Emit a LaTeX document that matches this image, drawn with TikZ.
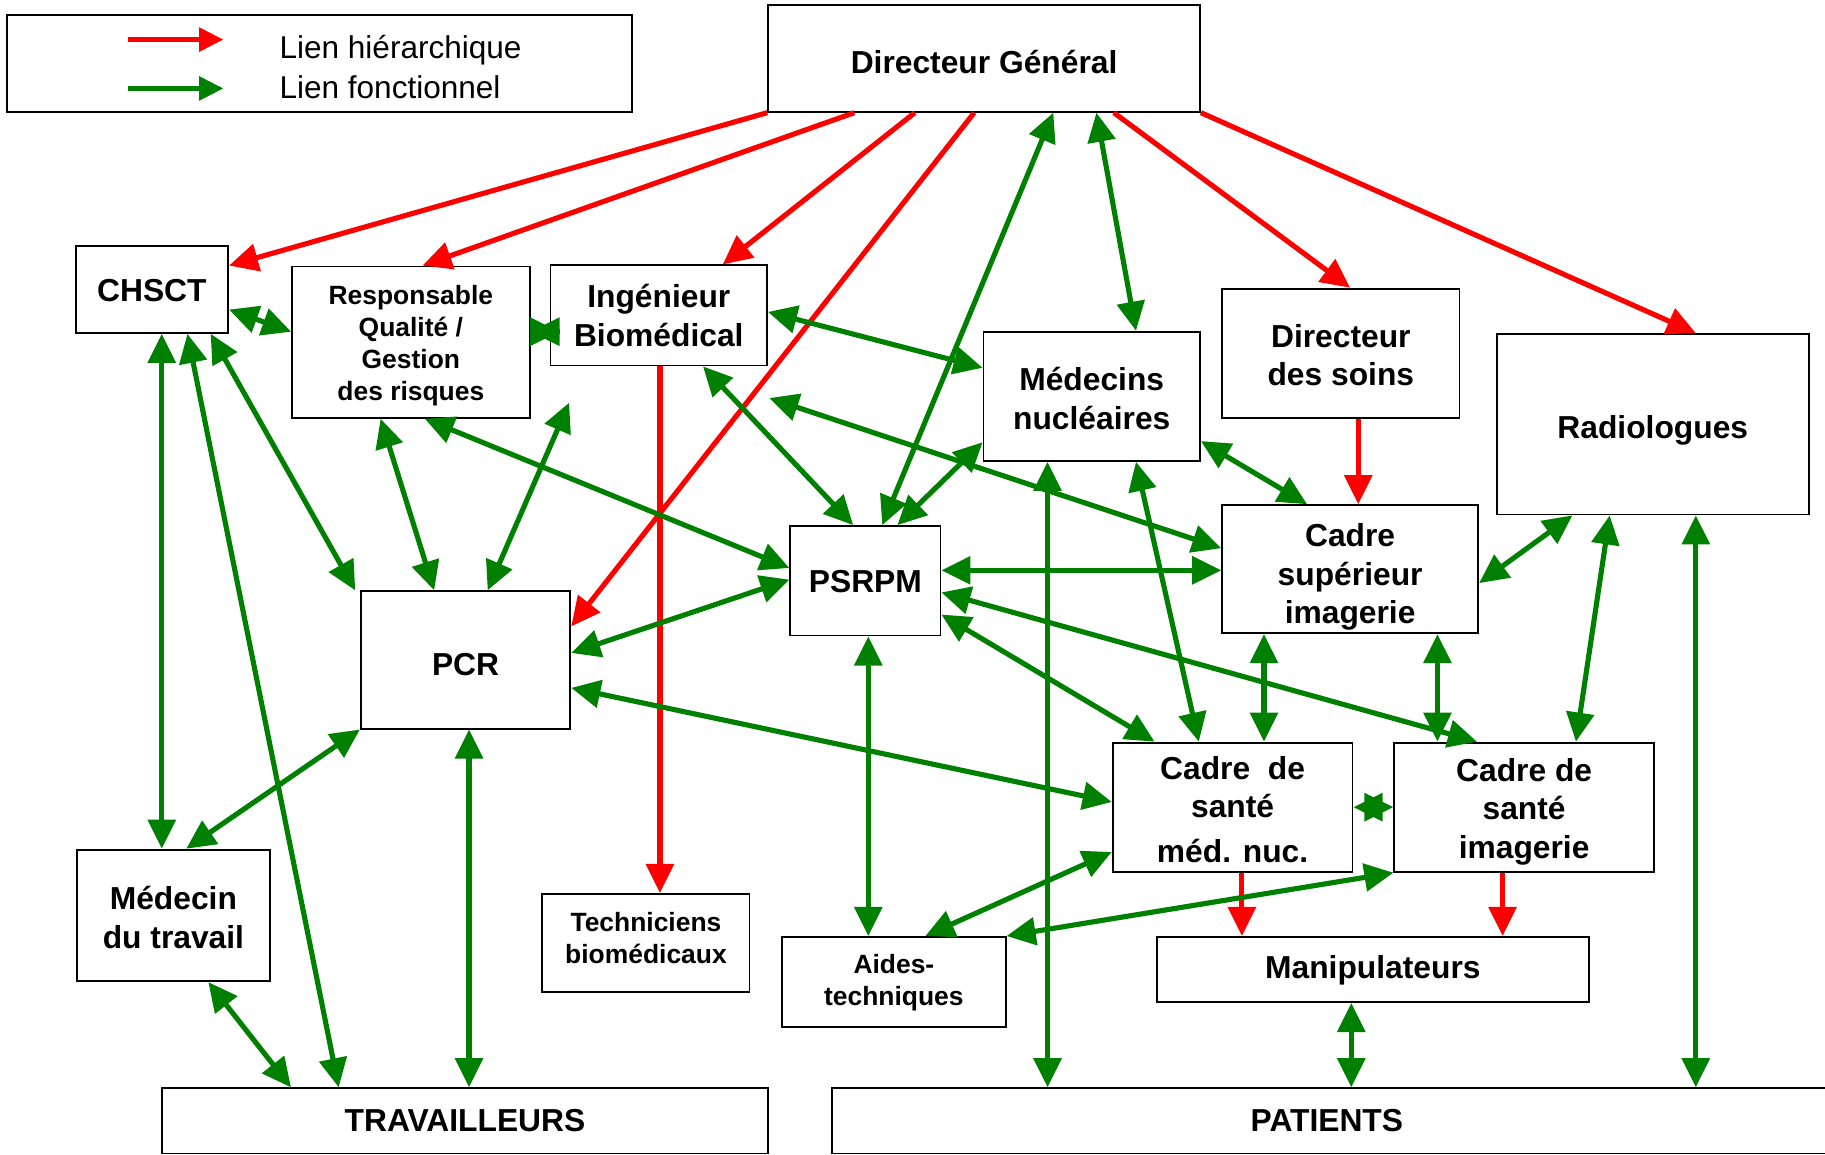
\documentclass[tikz,border=0pt]{standalone}
\usepackage{fontspec}
\setmainfont{Liberation Sans}
\usetikzlibrary{arrows.meta}
\definecolor{hred}{RGB}{255,0,0}
\definecolor{fgreen}{RGB}{0,128,0}
\newcommand\bigfont{\fontsize{27.3pt}{33pt}\selectfont\bfseries}
\newcommand\smallfont{\fontsize{22.7pt}{27.5pt}\selectfont\bfseries}
\newcommand\legfont{\fontsize{27.1pt}{33pt}\selectfont}
\newcommand\sh[2]{\raisebox{#1}[\height][\depth]{#2}}
\newcommand\ml[2]{\raisebox{#1}[\height][\depth]{\begin{tabular}{@{}c@{}}#2\end{tabular}}}
\tikzset{
  box/.style={draw=black, line width=1.6pt, fill=white, inner sep=0pt, font=\bigfont},
  sbox/.style={box, font=\smallfont},
  hier/.style={draw=hred, line width=4.4pt, -{Triangle[length=25pt,width=23.5pt]}},
  func/.style={draw=fgreen, line width=4.4pt, {Triangle[length=25pt,width=23.5pt]}-{Triangle[length=25pt,width=23.5pt]}},
  funcone/.style={draw=fgreen, line width=4.4pt, -{Triangle[length=25pt,width=23.5pt]}},
  leghier/.style={draw=hred, line width=4.4pt, -{Triangle[length=21pt,width=20pt]}},
  legfunc/.style={draw=fgreen, line width=4.4pt, -{Triangle[length=21pt,width=20pt]}},
}
\begin{document}
\begin{tikzpicture}[x=1pt,y=-1pt]
\useasboundingbox (0,0) rectangle (1568,992);
% legend
\node[draw=black, line width=1.6pt, minimum width=537pt, minimum height=83pt, inner sep=0pt] (legend) at (274.5,54.5) {};
\node[anchor=west, inner sep=0pt, font=\legfont] (lh) at (240,43) {Lien hiérarchique};
\node[anchor=west, inner sep=0pt, font=\legfont] (lf) at (240,75) {Lien fonctionnel};
\coordinate (lr1) at (110,34); \coordinate (lr2) at (192,34);
\coordinate (lg1) at (110,76); \coordinate (lg2) at (192,76);
% boxes
\node[box, minimum width=371pt, minimum height=92pt] (DG) at (845.5,50) {\sh{-3pt}{Directeur Général}};
\node[box, minimum width=131pt, minimum height=75pt] (CHSCT) at (130.5,248.5) {\sh{-1pt}{CHSCT}};
\node[sbox, minimum width=204pt, minimum height=130pt] (RespQ) at (353,294) {\ml{-3pt}{Responsable\\Qualité /\\Gestion\\des risques}};
\node[box, minimum width=186pt, minimum height=86pt] (IngBio) at (566,271) {\ml{-3.5pt}{Ingénieur\\Biomédical}};
\node[box, minimum width=186pt, minimum height=111pt] (MedNuc) at (938,340.5) {\ml{-5pt}{Médecins\\nucléaires}};
\node[box, minimum width=204pt, minimum height=111pt] (DirSoins) at (1152,303.5) {\ml{-5pt}{Directeur\\des soins}};
\node[box, minimum width=268pt, minimum height=155pt] (Radio) at (1420,364.5) {\sh{-5pt}{Radiologues}};
\node[box, minimum width=129pt, minimum height=94pt] (PSRPM) at (743.5,499) {\sh{-1pt}{PSRPM}};
\node[box, minimum width=220pt, minimum height=110pt] (CadreSup) at (1160,489) {\ml{-7.3pt}{Cadre\\supérieur\\imagerie}};
\node[box, minimum width=180pt, minimum height=118pt] (PCR) at (400,567) {\sh{-4pt}{PCR}};
\node[box, minimum width=206pt, minimum height=111pt] (CSMN) at (1059,693.5) {\ml{-5.2pt}{Cadre\ \ de\\santé\\[5pt]méd. nuc.}};
\node[box, minimum width=223pt, minimum height=111pt] (CSI) at (1309.5,693.5) {\ml{-4.3pt}{Cadre de\\santé\\imagerie}};
\node[box, minimum width=166pt, minimum height=113pt] (MedTrav) at (149,786.5) {\ml{-5pt}{Médecin\\du travail}};
\node[sbox, minimum width=178pt, minimum height=84pt] (Tech) at (555,810) {\ml{1.3pt}{Techniciens\\biomédicaux}};
\node[sbox, minimum width=192pt, minimum height=77pt] (Aides) at (768,843.5) {\ml{-1.2pt}{Aides-\\techniques}};
\node[box, minimum width=371pt, minimum height=56pt] (Manip) at (1179.5,833) {\sh{-1pt}{Manipulateurs}};
\node[box, minimum width=521pt, minimum height=56pt] (Trav) at (399.5,963) {TRAVAILLEURS};
\node[box, minimum width=856pt, minimum height=56pt] (Patients) at (1143,963) {\hspace*{-6pt}PATIENTS};
\coordinate (freeA) at (489,346);
\coordinate (freeB) at (661,342);
% legend arrows
\draw[leghier] (lr1) -- (lr2);
\draw[legfunc] (lg1) -- (lg2);
% hierarchical links
\draw[hier] (DG.south west) -- ([yshift=-18pt]CHSCT.north east);
\draw[hier] ([xshift=-111.5pt]DG.south) -- ([xshift=10pt]RespQ.north);
\draw[hier] ([xshift=-59.5pt]DG.south) -- ([xshift=55pt]IngBio.north);
\draw[hier] ([xshift=-8.5pt]DG.south) -- ([yshift=-31pt]PCR.north east);
\draw[hier] ([xshift=111.5pt]DG.south) -- ([xshift=8pt]DirSoins.north);
\draw[hier] (DG.south east) -- ([xshift=37pt]Radio.north);
\draw[hier] ([xshift=1pt]IngBio.south) -- ([xshift=12pt]Tech.north);
\draw[hier] ([xshift=15pt]DirSoins.south) -- ([xshift=7pt]CadreSup.north);
\draw[hier] ([xshift=8pt]CSMN.south) -- ([xshift=-112.5pt]Manip.north);
\draw[hier] ([xshift=-18.5pt]CSI.south) -- ([xshift=111.5pt]Manip.north);
% functional links
\draw[func] ([xshift=59.5pt]DG.south) -- ([xshift=14.5pt]PSRPM.north);
\draw[func] ([xshift=96.5pt]DG.south) -- ([xshift=38pt]MedNuc.north);
\draw[func] ([yshift=-17.5pt]CHSCT.east) -- ([yshift=9pt]RespQ.west);
% star between RespQ and IngBio (two opposite heads)
\draw[funcone] ([xshift=25.3pt,yshift=9pt]RespQ.east) -- ([yshift=9pt]RespQ.east);
\draw[funcone] ([xshift=-17pt,yshift=-14pt]IngBio.west) -- ([xshift=8.3pt,yshift=-14pt]IngBio.west);
\draw[func] ([xshift=8.5pt]CHSCT.south) -- ([xshift=-10pt]MedTrav.north);
\draw[func] ([xshift=30.5pt]CHSCT.south) -- ([xshift=-108.5pt]Trav.north);
\draw[func] ([xshift=50.5pt]CHSCT.south) -- ([xshift=-4pt]PCR.north west);
\draw[func] ([xshift=-26pt]RespQ.south) -- ([xshift=-27pt]PCR.north);
\draw[func] ([xshift=12pt]RespQ.south) -- ([yshift=11pt]PSRPM.west);
\draw[func] ([xshift=19pt]PCR.north) -- (freeA);
\draw[func] ([yshift=3pt]IngBio.east) -- ([yshift=24.5pt]MedNuc.west);
\draw[func] ([xshift=38pt]IngBio.south) -- ([xshift=-10.5pt]PSRPM.north);
\draw[func] (freeB) -- ([yshift=18pt]CadreSup.west);
\draw[func] ([yshift=-39.5pt]MedNuc.west) -- ([xshift=27.5pt]PSRPM.north);
\draw[func] ([yshift=9pt]PSRPM.east) -- ([yshift=-1pt]CadreSup.west);
\draw[func] ([yshift=-10pt]PSRPM.east) -- ([xshift=-40.5pt]CSI.north);
\draw[func] ([yshift=-29pt]PSRPM.east) -- ([xshift=-67pt]CSMN.north);
\draw[func] ([xshift=2.5pt]PSRPM.south) -- ([xshift=-22pt]Aides.north);
\draw[func] ([yshift=6pt]PCR.east) -- ([yshift=1pt]PSRPM.west);
\draw[func] ([yshift=-24pt]PCR.east) -- ([yshift=4.5pt]CSMN.west);
\draw[func] (PCR.south west) -- ([xshift=11pt]MedTrav.north);
\draw[func] ([xshift=3pt]PCR.south) -- ([xshift=3.5pt]Trav.north);
\draw[func] ([xshift=30pt]MedTrav.south) -- ([xshift=-149.5pt]Trav.north);
\draw[func] ([xshift=-38pt]MedNuc.south) -- ([xshift=-243pt]Patients.north);
\draw[func] ([yshift=-38.5pt]MedNuc.east) -- ([xshift=-37pt]CadreSup.north);
\draw[func] ([xshift=38pt]MedNuc.south) -- ([xshift=-29pt]CSMN.north);
\draw[func] ([xshift=-74pt]CadreSup.south) -- ([xshift=27pt]CSMN.north);
\draw[func] ([xshift=75pt]CadreSup.south) -- ([xshift=-74.5pt]CSI.north);
\draw[func] ([yshift=-12pt]CadreSup.east) -- ([xshift=-69pt]Radio.south);
\draw[func] ([xshift=-37pt]Radio.south) -- ([xshift=44.5pt]CSI.north);
\draw[func] ([xshift=37pt]Radio.south) -- ([xshift=314pt]Patients.north);
% star between CSMN and CSI
\draw[funcone] ([xshift=25.3pt]CSMN.east) -- (CSMN.east);
\draw[funcone] ([xshift=-25.3pt]CSI.west) -- (CSI.west);
\draw[func] ([yshift=-38.5pt]CSMN.west) -- ([xshift=27pt]Aides.north);
\draw[func] (CSI.south west) -- (Aides.north east);
\draw[func] ([xshift=-18.5pt]Manip.south) -- ([xshift=18pt]Patients.north);
\end{tikzpicture}
\end{document}
